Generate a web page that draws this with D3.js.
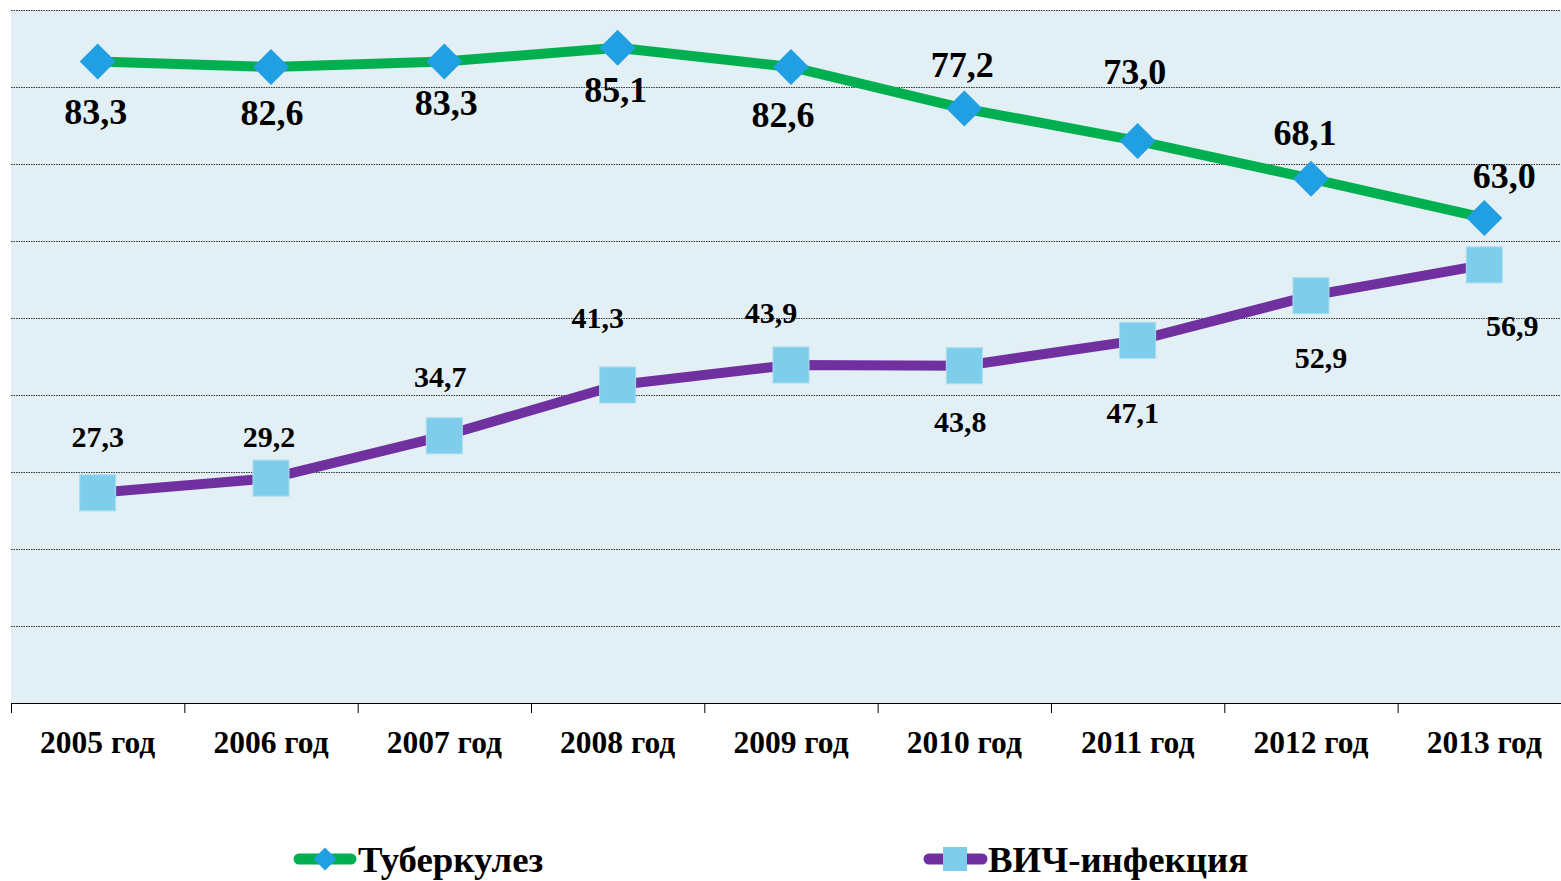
<!DOCTYPE html>
<html>
<head>
<meta charset="utf-8">
<script src="https://cdn.jsdelivr.net/npm/d3@7"></script>
<style>
  html, body { margin: 0; padding: 0; background: #ffffff; overflow: hidden; }
  svg { display: block; }
  text { font-family: "Liberation Serif", "Times New Roman", serif; font-weight: bold; fill: #000; }
</style>
</head>
<body>
<svg id="chart" width="1561" height="881"></svg>
<script>
// ---- data ----
const categories = ["2005 год", "2006 год", "2007 год", "2008 год", "2009 год", "2010 год", "2011 год", "2012 год", "2013 год"];
const tbValues  = [83.3, 82.6, 83.3, 85.1, 82.6, 77.2, 73.0, 68.1, 63.0];
const hivValues = [27.3, 29.2, 34.7, 41.3, 43.9, 43.8, 47.1, 52.9, 56.9];
const tbLabels  = ["83,3", "82,6", "83,3", "85,1", "82,6", "77,2", "73,0", "68,1", "63,0"];
const hivLabels = ["27,3", "29,2", "34,7", "41,3", "43,9", "43,8", "47,1", "52,9", "56,9"];
const seriesNames = ["Туберкулез", "ВИЧ-инфекция"];
const yTicks = [0, 10, 20, 30, 40, 50, 60, 70, 80, 90];

// manual label placement offsets (px) as in the original chart
const tbLabelDx  = [-2, 1, 2, -2, -8, -2, -3, -6, 20];
const tbLabelDy  = [50, 45, 41, 42, 47, -44, -70, -46, -43];
const hivLabelDx = [0, -2, -4, -20, -20, -4, -5, 10, 28];
const hivLabelDy = [-56, -42, -59, -67, -52, 56, 72, 62, 61];

(function () {
const svg = d3.select("#chart");
const pLeft = 11, pTop = 10, pBottom = 703;
const band = 173.33;
const pRight = pLeft + band * categories.length;

const x = d3.scaleBand().domain(categories).range([pLeft, pRight]).paddingInner(0).paddingOuter(0);
const y = d3.scaleLinear().domain([0, 90]).range([pBottom, pTop]);
const cx = d => x(d) + x.bandwidth() / 2;

// plot background
svg.append("rect")
  .attr("x", pLeft).attr("y", pTop)
  .attr("width", pRight - pLeft).attr("height", pBottom - pTop)
  .attr("fill", "#E2EFF5");

// gridlines
svg.append("g")
  .selectAll("line")
  .data(yTicks.filter(t => t > 0))
  .join("line")
  .attr("x1", pLeft).attr("x2", pRight)
  .attr("y1", d => Math.round(y(d)) + 0.5).attr("y2", d => Math.round(y(d)) + 0.5)
  .attr("stroke", "#333")
  .attr("stroke-width", 1)
  .attr("stroke-dasharray", "1.5,1");

// x axis
const gx = svg.append("g").attr("transform", `translate(0,${pBottom})`);
gx.append("line").attr("x1", pLeft).attr("x2", pRight).attr("y1", 0.5).attr("y2", 0.5).attr("stroke", "#000").attr("stroke-width", 1.2);
gx.selectAll("line.tick")
  .data(d3.range(categories.length + 1))
  .join("line")
  .attr("class", "tick")
  .attr("x1", i => pLeft + i * x.bandwidth() + 0.5)
  .attr("x2", i => pLeft + i * x.bandwidth() + 0.5)
  .attr("y1", 0).attr("y2", 10)
  .attr("stroke", "#000").attr("stroke-width", 1);
gx.selectAll("text.cat")
  .data(categories)
  .join("text")
  .attr("class", "cat")
  .attr("x", d => cx(d))
  .attr("y", 50)
  .attr("text-anchor", "middle")
  .style("font-size", "31.5px")
  .text(d => d);

const line = d3.line().x((d, i) => cx(categories[i])).y(d => y(d));

// TB line
svg.append("path")
  .datum(tbValues)
  .attr("d", line)
  .attr("fill", "none")
  .attr("stroke", "#00B050")
  .attr("stroke-width", 10)
  .attr("stroke-linejoin", "round");

// HIV line
svg.append("path")
  .datum(hivValues)
  .attr("d", line)
  .attr("fill", "none")
  .attr("stroke", "#7030A0")
  .attr("stroke-width", 10)
  .attr("stroke-linejoin", "round");

// TB markers (diamonds)
const dsz = 18;
svg.append("g")
  .selectAll("path")
  .data(tbValues)
  .join("path")
  .attr("transform", (d, i) => `translate(${cx(categories[i])},${y(d)})`)
  .attr("d", `M0,${-dsz}L${dsz},0L0,${dsz}L${-dsz},0Z`)
  .attr("fill", "#20A0E2");

// HIV markers (squares)
const ssz = 36;
svg.append("g")
  .selectAll("rect")
  .data(hivValues)
  .join("rect")
  .attr("x", (d, i) => cx(categories[i]) - ssz / 2)
  .attr("y", d => y(d) - ssz / 2)
  .attr("width", ssz).attr("height", ssz)
  .attr("fill", "#7ECDEA")
  .attr("stroke", "#A8DDF0").attr("stroke-width", 1);

// labels
svg.append("g")
  .selectAll("text")
  .data(tbValues)
  .join("text")
  .attr("x", (d, i) => cx(categories[i]) + tbLabelDx[i])
  .attr("y", (d, i) => y(d) + tbLabelDy[i])
  .attr("text-anchor", "middle")
  .attr("dy", "0.35em")
  .style("font-size", "36px")
  .text((d, i) => tbLabels[i]);

svg.append("g")
  .selectAll("text")
  .data(hivValues)
  .join("text")
  .attr("x", (d, i) => cx(categories[i]) + hivLabelDx[i])
  .attr("y", (d, i) => y(d) + hivLabelDy[i])
  .attr("text-anchor", "middle")
  .attr("dy", "0.35em")
  .style("font-size", "30px")
  .text((d, i) => hivLabels[i]);

// legend
const legY = 859;
const lg1 = svg.append("g");
lg1.append("line").attr("x1", 299).attr("x2", 351).attr("y1", legY).attr("y2", legY)
  .attr("stroke", "#00B050").attr("stroke-width", 11).attr("stroke-linecap", "round");
lg1.append("path").attr("transform", `translate(325,${legY})`)
  .attr("d", "M0,-11.5L11.5,0L0,11.5L-11.5,0Z").attr("fill", "#20A0E2");
lg1.append("text").attr("x", 358).attr("y", legY).attr("dy", "0.35em")
  .style("font-size", "36.8px").text(seriesNames[0]);

const lg2 = svg.append("g");
lg2.append("line").attr("x1", 929).attr("x2", 982).attr("y1", legY).attr("y2", legY)
  .attr("stroke", "#7030A0").attr("stroke-width", 11).attr("stroke-linecap", "round");
lg2.append("rect").attr("x", 943).attr("y", legY - 12).attr("width", 24).attr("height", 24)
  .attr("fill", "#7ECDEA");
lg2.append("text").attr("x", 988).attr("y", legY).attr("dy", "0.35em")
  .style("font-size", "36.8px").text(seriesNames[1]);
})();
</script>
</body>
</html>
